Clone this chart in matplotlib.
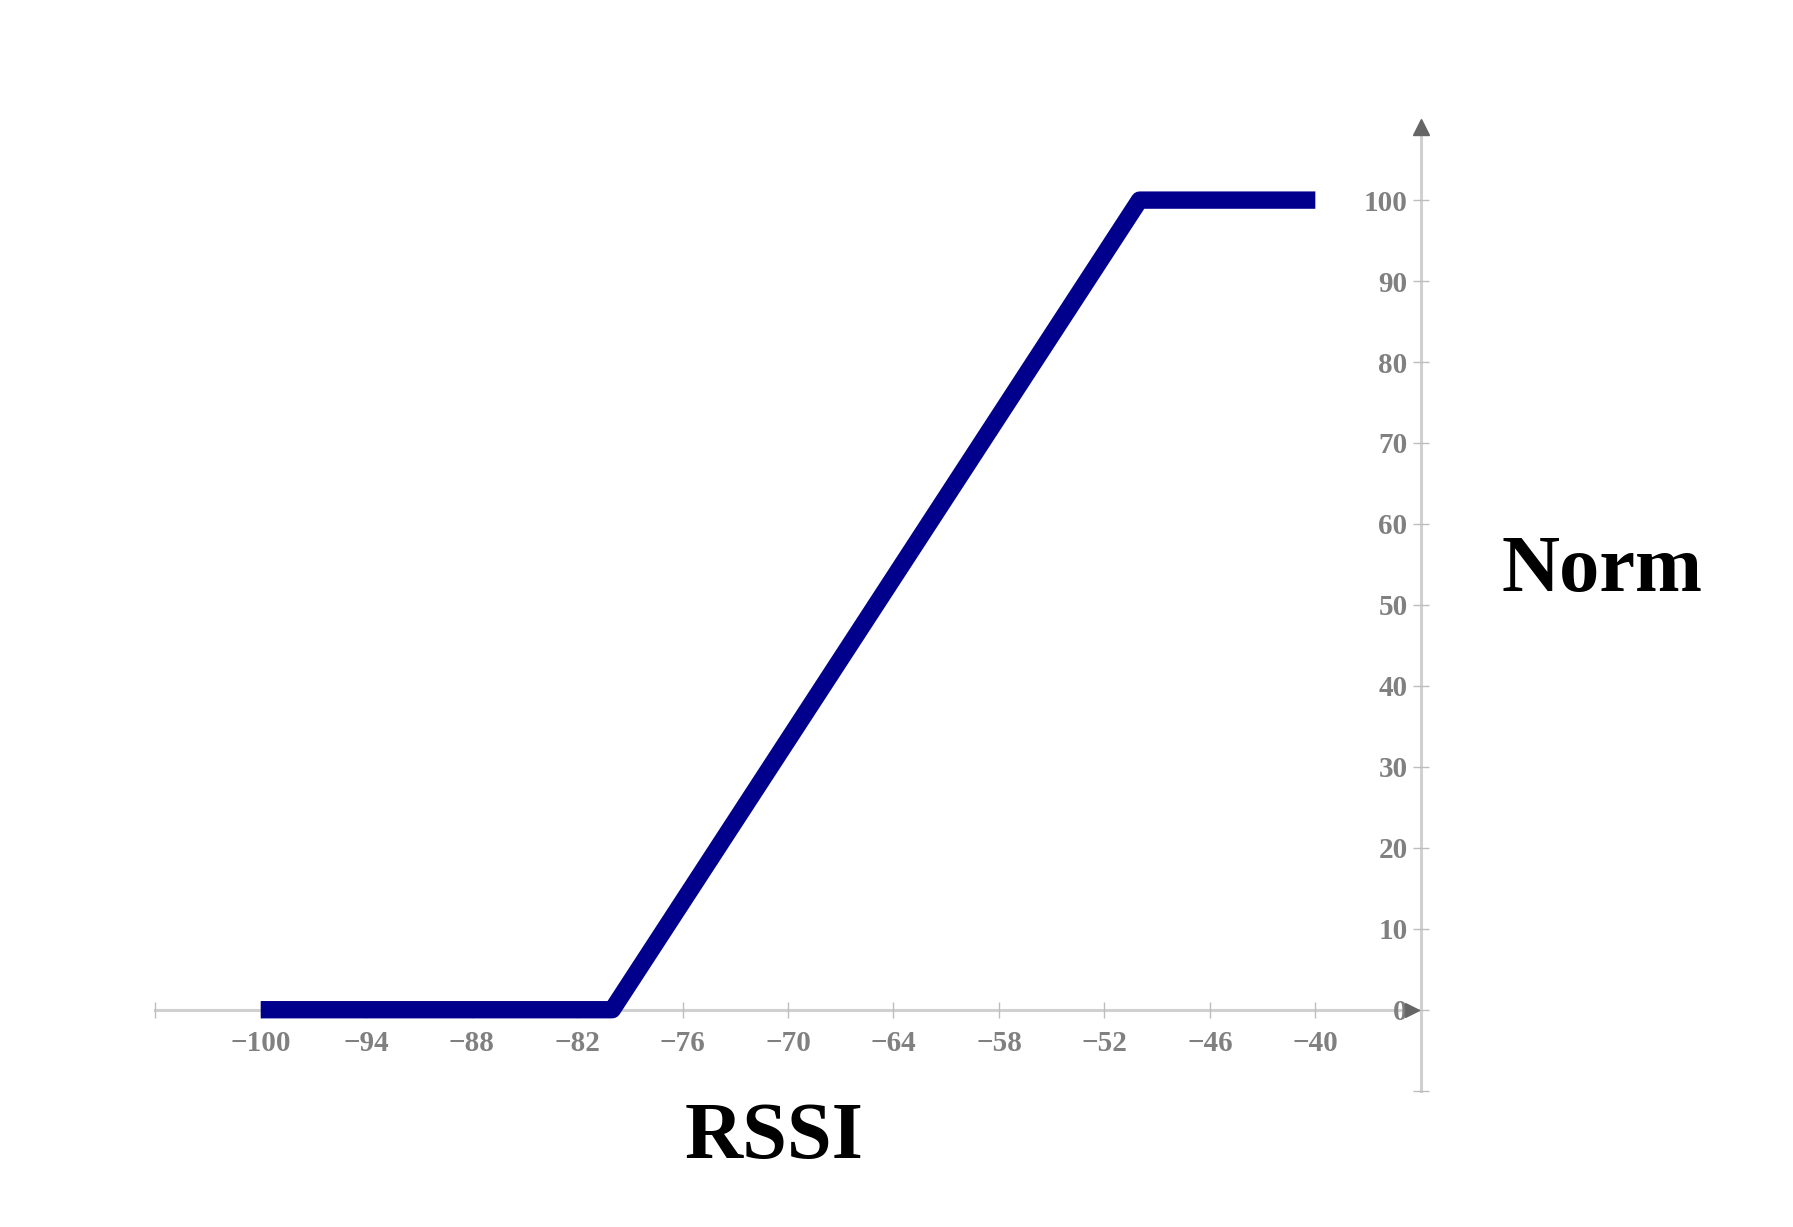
import matplotlib
matplotlib.use('Agg')
import matplotlib.pyplot as plt

# Daten: RSSI -> Norm (stückweise linear)
rssi = [-100, -80, -50, -40]
norm = [0, 0, 100, 100]

x_ticks = [-100, -94, -88, -82, -76, -70, -64, -58, -52, -46, -40]
y_ticks = [0, 10, 20, 30, 40, 50, 60, 70, 80, 90, 100]

axis_grau = '#d0d0d0'
text_grau = '#808080'

fig = plt.figure(figsize=(17.93, 12.27), dpi=100)
ax = fig.add_axes([0.0866, 0.1111, 0.7058, 0.7852])

ax.plot(rssi, norm, color='#00008c', linewidth=12.5, solid_capstyle='butt', zorder=2)

ax.set_xlim(-106, -34)
ax.set_ylim(-10, 109)

# Achsen durch den Ursprung legen
for s in ['top', 'right']:
    ax.spines[s].set_visible(False)
ax.spines['left'].set_position(('data', -34))
ax.spines['bottom'].set_position(('data', 0))
for s in ['left', 'bottom']:
    ax.spines[s].set_color(axis_grau)
    ax.spines[s].set_linewidth(2.2)
    ax.spines[s].set_zorder(1)

ax.set_xticks(x_ticks)
ax.set_xticklabels([str(v).replace('-', '\u2212') for v in x_ticks])
ax.set_yticks(y_ticks)
ax.set_xticks([-106], minor=True)
ax.set_yticks([-10], minor=True)

ax.tick_params(axis='both', which='both', direction='inout', length=11, width=1,
               color='#bdbdbd', labelcolor=text_grau, labelsize=21)
ax.tick_params(axis='x', which='major', pad=9)
ax.tick_params(axis='y', which='major', pad=4)
for lab in ax.get_xticklabels() + ax.get_yticklabels():
    lab.set_fontfamily('Liberation Serif')
    lab.set_fontweight('bold')

# Pfeilspitzen
ax.plot(-34, 1, marker='^', color='#666666', markersize=12,
        transform=ax.get_xaxis_transform(), clip_on=False)
ax.plot(0.993, 0, marker='>', color='#666666', markersize=10,
        transform=ax.get_yaxis_transform(), clip_on=False)

fig.text(0.4317, 0.0725, 'RSSI', fontsize=58, fontweight='bold',
         family='Liberation Serif', ha='center', va='center')
fig.text(0.8935, 0.5340, 'Norm', fontsize=58, fontweight='bold',
         family='Liberation Serif', ha='center', va='center')

fig.savefig('out.png', dpi=100)
